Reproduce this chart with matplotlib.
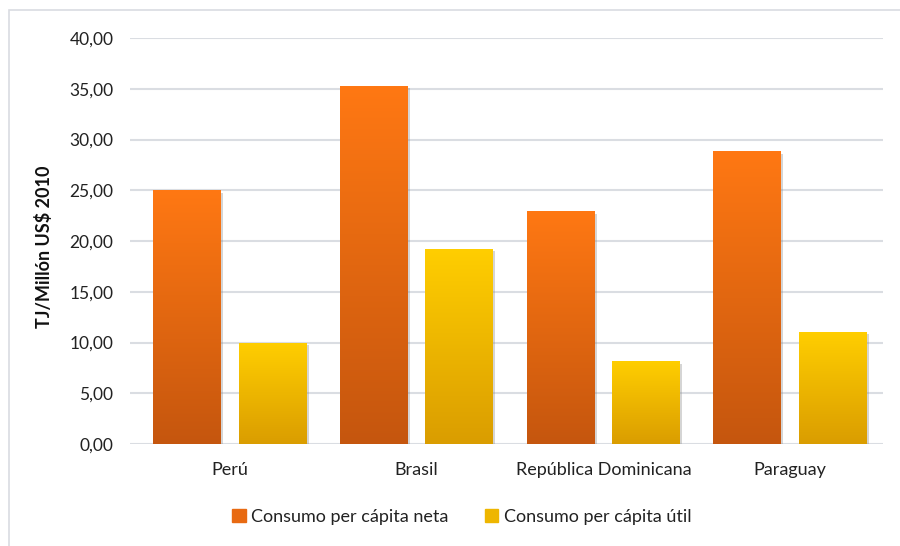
import numpy as np
import matplotlib.pyplot as plt
import matplotlib.patheffects as pe
from matplotlib.colors import LinearSegmentedColormap
from matplotlib.patches import Rectangle

plt.rcParams['font.family'] = ['Lato', 'DejaVu Sans']

# Consumo energético por país
paises = ["Perú", "Brasil", "República Dominicana", "Paraguay"]
neta = [24.93, 35.27, 22.86, 28.77]
util = [9.95, 19.20, 8.08, 11.03]
series = ["Consumo per cápita neta", "Consumo per cápita útil"]
yticks = [0, 5, 10, 15, 20, 25, 30, 35, 40]

# colores del degradado (arriba, abajo)
grad_neta = ("#FF7813", "#C5560E")
grad_util = ("#FFCE00", "#DA9D00")

fig = plt.figure(figsize=(9, 5.46), dpi=100)
ax = fig.add_axes([0.1444, 0.1868, 0.8367, 0.7436])

# marco del gráfico
fig.patches.append(Rectangle((9 / 900, -0.01), 1.0, 1 - 10 / 546 + 0.01,
                             transform=fig.transFigure, fill=False,
                             edgecolor="#D9DCE1", linewidth=1.2))

x = np.arange(len(paises))
w = 0.364
off = 0.229


def barras_degradado(xs, vals, colores):
    cmap = LinearSegmentedColormap.from_list("g", [colores[1], colores[0]])
    grad = np.linspace(0, 1, 256).reshape(-1, 1)
    bars = ax.bar(xs, vals, width=w, color=colores[1], zorder=2,
                  path_effects=[pe.SimplePatchShadow(offset=(1.5, -1.5),
                                                     shadow_rgbFace="#888888",
                                                     alpha=0.35),
                                pe.Normal()])
    for b in bars:
        x0, y0 = b.get_x(), b.get_y()
        ax.imshow(grad, cmap=cmap, origin="lower", aspect="auto",
                  extent=(x0, x0 + b.get_width(), y0, y0 + b.get_height()),
                  zorder=3, interpolation="bilinear")
    return bars


barras_degradado(x - off, neta, grad_neta)
barras_degradado(x + off, util, grad_util)

ax.set_xlim(-0.536, 3.498)
ax.set_ylim(0, 40)
ax.set_yticks(yticks)
ax.set_yticklabels([f"{v:.2f}".replace(".", ",") for v in yticks])
ax.set_xticks(x)
ax.set_xticklabels(paises)
ax.grid(axis="y", color="#DADDE2", linewidth=1.5, zorder=0)
ax.set_axisbelow(True)
for s in ax.spines.values():
    s.set_visible(False)
ax.tick_params(axis="y", length=0, labelsize=12.5, colors="#222222", pad=12)
ax.tick_params(axis="x", length=0, labelsize=13, colors="#222222", pad=13)
ax.set_ylabel("TJ/Millón US$ 2010", fontsize=13, fontweight="bold",
              color="#111111")
ax.yaxis.set_label_coords(-0.102, 0.485)

handles = [Rectangle((0, 0), 1, 1, color="#E86A12"),
           Rectangle((0, 0), 1, 1, color="#EEB600")]
fig.legend(handles, series, loc="center", bbox_to_anchor=(0.513, 0.053),
           ncol=2, frameon=False, fontsize=13, handlelength=0.75,
           handleheight=0.75, handletextpad=0.3, columnspacing=2.0,
           labelcolor="#222222")

fig.savefig("out.png", dpi=100)
